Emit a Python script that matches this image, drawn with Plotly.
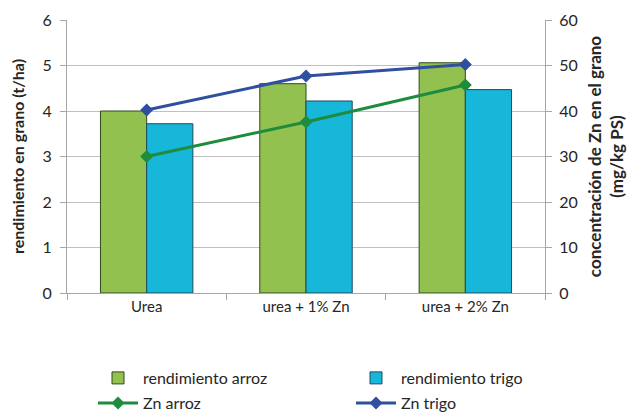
import plotly.graph_objects as go

categories = ["Urea", "urea + 1% Zn", "urea + 2% Zn"]
rend_arroz = [4.0, 4.6, 5.06]
rend_trigo = [3.72, 4.22, 4.47]
zn_arroz = [30.0, 37.6, 45.7]
zn_trigo = [40.2, 47.7, 50.2]

FONT = "Lato, Open Sans, sans-serif"
TXT = "#262626"

fig = go.Figure()
fig.add_trace(go.Bar(x=categories, y=rend_arroz, name="rendimiento arroz",
                     legend="legend",
                     marker=dict(color="#92C150", line=dict(color="#2F4A1A", width=1))))
fig.add_trace(go.Bar(x=categories, y=rend_trigo, name="rendimiento trigo",
                     legend="legend2",
                     marker=dict(color="#16B7D8", line=dict(color="#1F4A5E", width=1))))
fig.add_trace(go.Scatter(x=categories, y=zn_arroz, name="Zn arroz", yaxis="y2",
                         legend="legend3",
                         mode="lines+markers",
                         line=dict(color="#1E8C3C", width=3),
                         marker=dict(symbol="diamond", size=10, color="#1E8C3C")))
fig.add_trace(go.Scatter(x=categories, y=zn_trigo, name="Zn trigo", yaxis="y2",
                         legend="legend4",
                         mode="lines+markers",
                         line=dict(color="#2F4FA0", width=3),
                         marker=dict(symbol="diamond", size=10, color="#2F4FA0")))

# figure is shown with an 8 px page margin, so dimensions compensate for it
W, H = 627, 408
ML, MR, MT, MB = 59, 90, 12, 123
plot_h = H - MT - MB
plot_w = W - ML - MR
OFF = 8

def leg(xpix_col, ypix_row):
    # xpix/ypix are positions in the page; convert to paper coords
    return dict(orientation="v", yanchor="middle", xanchor="left",
                x=(xpix_col - OFF - ML) / plot_w,
                y=-((ypix_row - (H - MB + OFF)) / plot_h),
                font=dict(family=FONT, size=16, color=TXT),
                itemwidth=40, bgcolor="rgba(0,0,0,0)")

fig.update_layout(
    width=W, height=H,
    margin=dict(l=ML, r=MR, t=MT, b=MB, autoexpand=False),
    paper_bgcolor="white", plot_bgcolor="white",
    font=dict(family=FONT, size=14, color=TXT),
    barmode="group", bargap=0.42, bargroupgap=0,
    showlegend=True,
    legend=leg(93, 378),
    legend2=leg(351, 378),
    legend3=leg(93, 403),
    legend4=leg(351, 403),
    xaxis=dict(type="category", showline=True, linecolor="#A6A6A6", linewidth=1,
               ticks="outside", tickson="boundaries", ticklen=6, tickcolor="#A6A6A6",
               tickfont=dict(size=15, color=TXT), showgrid=False),
    yaxis=dict(range=[0, 6], dtick=1, showline=True, linecolor="#A6A6A6",
               ticks="outside", ticklen=6, tickcolor="#A6A6A6",
               gridcolor="#BFBFBF", gridwidth=1, zeroline=False,
               tickfont=dict(size=16, color=TXT), ticklabelstandoff=5,
               title=dict(text="<b>rendimiento en grano (t/ha)</b>",
                          font=dict(size=16, color=TXT), standoff=13)),
    yaxis2=dict(range=[0, 60], dtick=10, overlaying="y", side="right",
                showline=True, linecolor="#A6A6A6", ticks="outside", ticklen=6,
                tickcolor="#A6A6A6", showgrid=False, zeroline=False,
                tickfont=dict(size=16, color=TXT), ticklabelstandoff=4,
                title=dict(text="<b>concentración de Zn en el grano<br>(mg/kg PS)</b>",
                           font=dict(size=17, color=TXT), standoff=12)),
)

fig.write_html("out.html")
